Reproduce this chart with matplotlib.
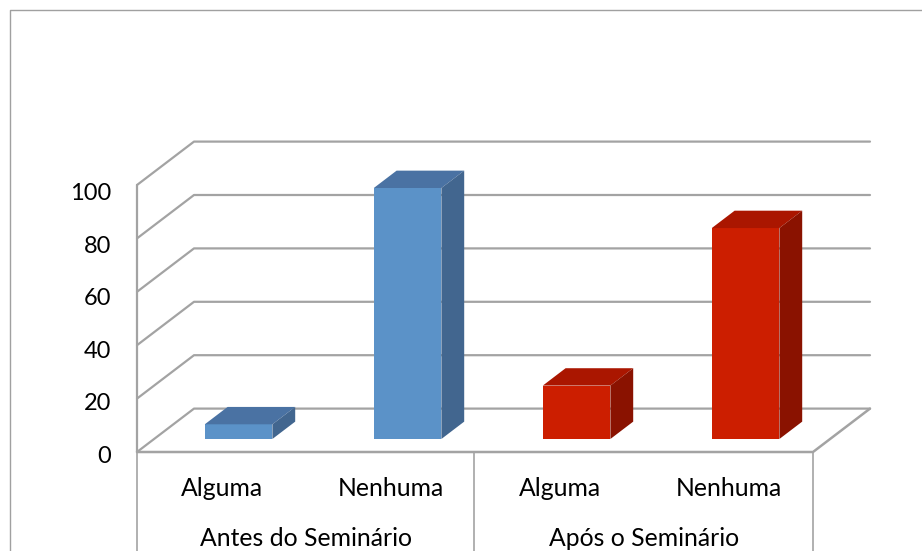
import numpy as np
import matplotlib
matplotlib.use('Agg')
import matplotlib.pyplot as plt
from matplotlib.lines import Line2D
from matplotlib.transforms import IdentityTransform

# Survey answers before and after the seminar (percent)
groups = ['Antes do Seminário', 'Após o Seminário']
categories = ['Alguma', 'Nenhuma', 'Alguma', 'Nenhuma']
values = [5.5, 94, 20, 79]
y_ticks = [0, 20, 40, 60, 80, 100]

BLUE = ('#5B92C8', '#4A72A3', '#42668F')
RED = ('#CC1E00', '#AA1600', '#8A1200')
bar_colors = [BLUE, BLUE, RED, RED]

GRID = '#a3a3a3'
W, H = 922, 551
DEPTH_X, DEPTH_Y = 57, 43.4  # pixel shift from front to back of the chart box


def project(ax, x, y, d):
    """Data position plus depth (0 front, 1 back) to display pixels."""
    pts = ax.transData.transform(np.column_stack([x, y]))
    pts[:, 0] += DEPTH_X * np.asarray(d)
    pts[:, 1] += DEPTH_Y * np.asarray(d)
    return pts


def poly(ax, x, y, d, color):
    pts = project(ax, x, y, d)
    ax.fill(pts[:, 0], pts[:, 1], color=color, lw=0, transform=IdentityTransform(),
            clip_on=False, zorder=3)


def wall_line(ax, x, y, d, lw=1.6):
    pts = project(ax, x, y, d)
    ax.plot(pts[:, 0], pts[:, 1], color=GRID, lw=lw, transform=IdentityTransform(),
            clip_on=False, solid_capstyle='round', zorder=1)


def bar3d(ax, center, value, colors, width=0.4, d0=0.3, d1=0.7):
    x0, x1 = center - width / 2, center + width / 2
    poly(ax, [x0, x1, x1, x0], [0, 0, value, value], [d0] * 4, colors[0])
    poly(ax, [x0, x1, x1, x0], [value] * 4, [d0, d0, d1, d1], colors[1])
    poly(ax, [x1, x1, x1, x1], [0, value, value, 0], [d0, d0, d1, d1], colors[2])


def main():
    plt.rcParams['font.family'] = ['Lato', 'DejaVu Sans']
    fig = plt.figure(figsize=(W / 100, H / 100), dpi=100)

    ax = fig.add_axes([137 / W, (H - 452) / H, (813 - 137) / W, (452 - 185) / H])
    ax.set_xlim(0, 4)
    ax.set_ylim(0, 100)
    ax.axis('off')

    # Gridlines run along the side wall and then the back wall
    for v in y_ticks:
        wall_line(ax, [0, 0, 4], [v, v, v], [0, 1, 1])

    # Floor and axis lines
    wall_line(ax, [0, 4, 4], [0, 0, 0], [0, 0, 1], lw=1.8)
    wall_line(ax, [0, 0], [0, 100], [0, 0])

    for i, (val, colors) in enumerate(zip(values, bar_colors)):
        bar3d(ax, i + 0.5, val, colors)

    # Category labels and group separators below the floor
    for i, cat in enumerate(categories):
        ax.annotate(cat, (i + 0.5, 0), xytext=(0, -36 * 0.72), textcoords='offset points',
                    ha='center', va='center', fontsize=17.8, color='black', annotation_clip=False)
    for i, grp in enumerate(groups):
        ax.annotate(grp, (2 * i + 1, 0), xytext=(0, -87 * 0.72), textcoords='offset points',
                    ha='center', va='center', fontsize=17.8, color='black', annotation_clip=False)

    for x in [137, 474, 813]:
        fig.add_artist(Line2D([x / W, x / W], [0, (H - 452) / H], color=GRID, lw=1.2))

    # Value labels sit on a slightly tighter scale than the gridlines
    lab = fig.add_axes([137 / W, (H - 454.5) / H, 0.01, (454.5 - 191.5) / H])
    lab.patch.set_alpha(0)
    lab.set_ylim(0, 100)
    lab.set_xticks([])
    lab.set_yticks(y_ticks)
    lab.tick_params(axis='y', length=0, pad=18.5, labelsize=17)
    for s in lab.spines.values():
        s.set_visible(False)

    # Chart area border: left and top edges only
    fig.add_artist(Line2D([9.5 / W, 9.5 / W, 1], [0, (H - 9.5) / H, (H - 9.5) / H],
                          color='#a0a0a0', lw=1.0))

    fig.savefig('out.png', dpi=100)


if __name__ == '__main__':
    main()
